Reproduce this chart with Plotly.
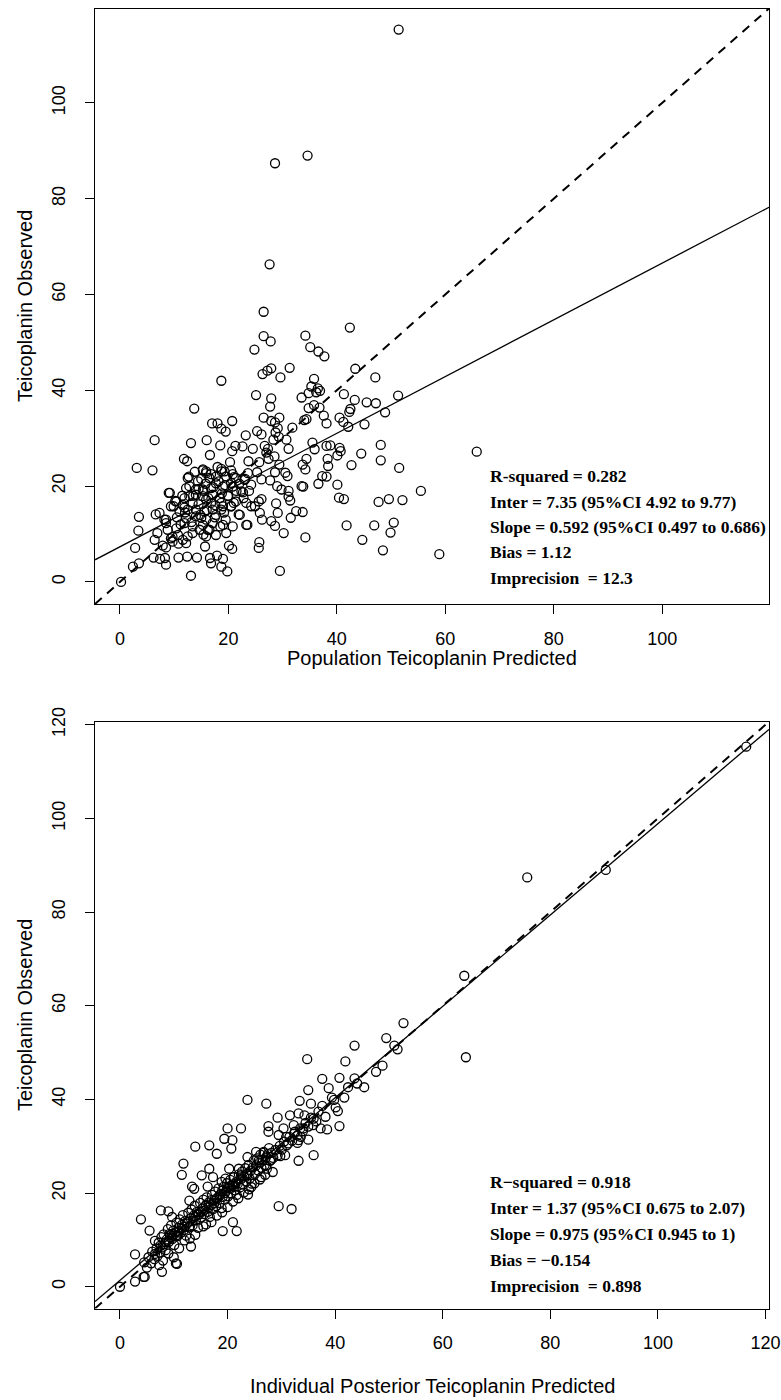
import plotly.graph_objects as go

# ---------------- data: top panel (population predicted vs observed) ----------------
top_pred = [51.4, 34.6, 28.6, 27.6, 26.5, 42.4, 26.5, 34.2, 27.8,
    24.8, 35.1, 36.6, 37.7, 18.7, 26.3, 27.9, 27.2, 29.6, 31.3, 43.4, 47.1, 35.8, 35.3, 36.5, 36.2,
    36.9, 25.1, 27.9, 33.5, 34.8, 41.3, 43.3, 45.5, 47.2, 51.3, 13.7, 27.7, 34.8, 35.8, 36.8, 42.5,
    42.3, 48.9, 26.5, 29.4, 27.9, 28.6, 34.4, 37.6, 40.5, 41.2, 45.1, 42.1, 31.8, 29.1, 34.0, 38.1,
    17.0, 18.0, 20.7, 18.7, 19.5, 25.3, 26.1, 23.2, 28.7, 29.3, 28.3, 30.7, 6.4, 16.0, 35.5, 13.1,
    18.5, 21.3, 22.6, 26.7, 38.1, 38.8, 48.1, 24.5, 27.3, 31.1, 35.9, 40.5, 40.7, 65.8, 20.7, 27.0,
    16.6, 28.5, 44.5, 40.1, 38.3, 34.4, 11.8, 12.4, 20.3, 23.7, 25.7, 27.4, 48.1, 42.7, 38.4, 33.7,
    3.1, 6.0, 15.3, 15.9, 18.7, 29.4, 28.6, 25.3, 51.5, 34.2, 30.5, 30.9, 37.3, 38.1, 12.7, 21.0,
    23.1, 26.1, 27.7, 36.6, 33.5, 33.8, 29.0, 29.8, 24.2, 20.5, 40.1, 14.5, 15.4, 31.1, 9.2, 55.5,
    22.7, 31.1, 31.4, 40.4, 41.3, 47.7, 49.6, 52.1, 10.2, 26.1, 25.6, 28.8, 24.2, 24.9, 20.5, 18.7,
    9.9, 11.9, 32.5, 33.7, 29.1, 19.2, 21.9, 6.6, 7.3, 3.5, 31.5, 26.2, 25.8, 15.0, 8.5, 27.9,
    50.5, 41.8, 46.9, 28.6, 23.5, 18.5, 16.2, 3.4, 6.9, 30.2, 49.9, 15.4, 9.7, 34.2, 44.7, 6.4,
    10.8, 20.1, 20.7, 7.9, 15.7, 8.5, 25.7, 25.6, 2.8, 48.5, 58.9, 6.2, 7.4, 8.3, 10.8, 12.4,
    14.2, 16.6, 17.9, 19.0, 2.4, 3.5, 16.8, 18.7, 8.5, 29.5, 19.8, 13.1, 0.2,
    15.3, 15.9, 18.7, 19.3, 20.5, 23.6, 12.5, 14.4, 16.5, 17.7, 19.6, 21.4, 23.0, 17.7, 19.0, 20.8,
    22.4, 12.2, 14.0, 15.3, 16.8, 9.0, 10.4, 11.9, 12.8, 14.0, 15.3, 15.9, 17.1, 18.4, 19.9, 21.4,
    23.3, 9.4, 11.6, 13.4, 16.8, 19.0, 11.0, 12.5, 14.0, 15.6, 17.1, 18.7, 20.5, 22.1, 12.2, 14.0,
    15.9, 17.7, 8.2, 8.5, 10.4, 11.9, 13.4, 15.3, 17.1, 19.0, 20.8, 23.3, 8.8, 10.7, 12.5, 14.7,
    16.5, 9.4, 11.6, 13.4, 15.9, 17.7, 19.6, 9.7, 12.2,
    13.5, 14.5, 15.8, 16.3, 17.2, 17.6, 18.2, 18.8, 19.4, 20.0, 20.8, 21.5, 22.0, 16.0, 14.8, 13.2,
    12.0, 11.2, 10.5, 17.5, 19.5, 21.0, 22.8, 23.8, 15.0, 16.8, 18.0, 13.8, 12.8, 11.5]
top_obs = [115.3, 89.0, 87.4, 66.3, 56.4, 53.1, 51.3, 51.4, 50.2,
    48.5, 49.0, 48.1, 47.1, 42.0, 43.4, 44.6, 44.1, 42.7, 44.7, 44.5, 42.7, 42.4, 40.8, 40.4, 39.6,
    39.9, 39.0, 38.3, 38.5, 39.4, 39.2, 38.0, 37.5, 37.3, 38.9, 36.2, 36.6, 36.3, 36.9, 36.4, 36.1,
    35.5, 35.4, 34.3, 34.3, 33.6, 33.3, 34.0, 34.7, 34.3, 33.4, 32.9, 32.4, 32.2, 32.1, 33.8, 33.1,
    33.1, 33.1, 33.6, 32.0, 31.4, 31.5, 30.8, 30.6, 31.2, 30.3, 29.7, 29.7, 29.6, 29.6, 29.1, 29.0,
    28.5, 28.4, 28.3, 28.4, 28.4, 28.5, 28.6, 27.8, 27.8, 27.8, 27.7, 28.0, 27.3, 27.2, 27.3, 27.0,
    26.5, 26.2, 26.8, 26.4, 25.7, 25.7, 25.7, 25.2, 25.0, 25.2, 25.0, 25.7, 25.4, 24.4, 24.2, 24.5,
    23.8, 23.3, 23.5, 23.1, 23.1, 24.5, 22.9, 22.9, 23.8, 23.5, 22.8, 22.1, 22.1, 22.0, 22.0, 21.9,
    21.5, 21.4, 21.2, 20.5, 20.0, 19.9, 20.0, 19.3, 20.3, 20.7, 20.3, 19.4, 19.0, 19.0, 18.6, 19.0,
    18.7, 17.8, 17.0, 17.6, 17.3, 16.7, 17.3, 17.1, 16.9, 17.3, 16.8, 16.4, 15.8, 15.8, 15.8, 16.5,
    15.8, 15.5, 14.8, 14.6, 14.4, 14.5, 14.1, 14.1, 14.4, 13.6, 13.4, 13.0, 14.4, 13.4, 13.0, 12.7,
    12.4, 11.8, 11.8, 11.7, 11.9, 11.6, 10.9, 10.7, 10.2, 10.2, 10.3, 9.9, 9.4, 9.3, 8.8, 8.8,
    8.0, 7.6, 6.9, 7.6, 7.4, 7.2, 8.3, 7.1, 7.1, 6.6, 5.8, 5.1, 4.8, 5.0, 5.1, 5.3,
    5.1, 5.0, 5.5, 4.8, 3.2, 3.9, 3.9, 3.2, 3.6, 2.3, 2.2, 1.3, 0.0,
    23.3, 22.7, 23.6, 23.1, 23.3, 22.7, 21.7, 21.0, 21.7, 22.0, 22.0, 21.7, 21.3, 20.6, 19.9, 19.9,
    18.9, 19.6, 19.3, 19.3, 19.6, 18.6, 16.8, 17.5, 17.9, 18.2, 17.9, 17.2, 18.2, 17.5, 17.9, 16.8,
    16.5, 15.8, 16.1, 16.5, 16.5, 15.8, 14.7, 15.1, 15.1, 14.7, 15.1, 15.1, 15.8, 14.0, 13.3, 13.7,
    13.0, 14.0, 13.0, 12.3, 11.2, 12.3, 11.6, 11.9, 12.3, 11.9, 11.6, 11.9, 10.9, 9.8, 9.5, 10.9,
    10.9, 9.1, 8.8, 10.2, 9.5, 9.8, 10.2, 8.4, 8.1,
    18.0, 16.2, 20.5, 17.5, 19.8, 16.0, 21.0, 18.5, 20.2, 18.0, 22.5, 19.0, 20.5, 15.0, 14.0, 12.5,
    14.5, 12.0, 13.5, 13.5, 13.0, 16.5, 17.5, 19.0, 21.5, 22.5, 24.0, 23.0, 20.0, 18.0]

# ---------------- data: bottom panel (individual posterior predicted vs observed) ----------------
bot_pred = [116.4, 90.3, 75.7, 64.0, 52.7, 49.5, 43.6, 51.0, 51.6,
    64.3, 34.8, 41.9, 48.8, 47.6, 37.6, 40.8, 43.6, 45.4, 42.4, 35.0, 38.8, 44.1, 23.7, 27.2, 33.4,
    35.5, 37.6, 39.8, 39.4, 41.7, 40.1, 40.5, 40.8, 29.3, 31.6, 33.2, 34.3, 36.0, 38.2, 36.9, 27.6,
    30.4, 32.3, 34.1, 35.9, 37.3, 38.5, 20.0, 22.5, 27.6, 29.5, 30.9, 32.4, 33.6, 35.0, 33.2, 19.4,
    20.9, 14.0, 16.6, 20.7, 31.3, 33.0, 18.0, 36.0, 29.8, 30.7, 25.3, 26.7, 23.7, 28.1, 33.2, 25.8,
    11.8, 27.2, 20.3, 16.6, 22.1, 28.4, 11.5, 15.2, 17.3, 19.6, 21.2, 23.7, 26.3, 13.4, 13.8, 16.3,
    18.9, 21.2, 24.4, 23.8, 29.5, 31.9, 21.0, 19.1, 21.7, 3.9, 5.5, 2.8, 0.0, 2.8, 4.4, 10.4,
    7.8, 7.6, 9.0, 9.7, 12.9, 9.2, 13.2, 10.6, 4.6,
    4.5, 5.0, 5.3, 5.8, 6.0, 6.4, 6.8, 7.0, 7.2, 7.5, 7.7, 7.9, 8.1, 8.3, 8.5, 8.7,
    8.9, 9.1, 9.3, 9.5, 9.7, 9.9, 10.1, 10.3, 10.5, 10.7, 10.9, 11.1, 11.3, 11.5, 11.7, 11.9,
    12.1, 12.3, 12.5, 12.7, 12.9, 13.1, 13.3, 13.5, 13.7, 13.9, 14.1, 14.3, 14.5, 14.7, 14.9, 15.1,
    15.3, 15.5, 15.7, 15.9, 16.1, 16.3, 16.5, 16.7, 16.9, 17.1, 17.3, 17.5, 17.7, 17.9, 18.1, 18.3,
    18.5, 18.7, 18.9, 19.1, 19.3, 19.5, 19.7, 19.9, 20.1, 20.3, 20.5, 20.7, 20.9, 21.1, 21.3, 21.5,
    21.7, 21.9, 22.1, 22.3, 22.5, 22.7, 22.9, 23.1, 23.3, 23.5, 23.7, 23.9, 24.1, 24.3, 24.5, 24.7,
    24.9, 25.1, 25.3, 25.5, 25.7, 25.9, 26.1, 26.3, 26.5, 26.7, 26.9, 27.1, 27.3, 27.5, 27.7, 27.9,
    28.1, 28.5, 28.9, 29.3, 29.7, 30.1, 30.5, 31.0, 31.5, 32.0, 32.5, 33.0, 33.5, 34.0, 34.5, 35.0,
    35.5, 36.5,
    6.5, 7.3, 8.0, 9.0, 10.0, 11.0, 12.0, 13.0, 14.0, 15.5, 16.0, 17.0, 18.0, 19.0, 20.0, 21.0,
    22.0, 23.0, 24.0, 25.0, 26.0, 27.0,
    9.5, 10.5, 11.5, 12.5, 13.5, 14.5, 15.5, 16.5, 17.5, 18.5, 19.5, 20.5, 21.5, 22.5, 23.5, 15.0,
    16.0, 17.0, 18.0, 19.0, 20.0, 21.0, 14.0, 13.0, 12.0, 11.0, 10.0, 8.5, 7.5, 6.5]
bot_obs = [115.3, 89.0, 87.4, 66.4, 56.3, 53.1, 51.5, 51.5, 50.7,
    49.0, 48.6, 48.1, 47.2, 45.9, 44.4, 44.6, 44.5, 42.6, 42.6, 42.0, 42.4, 43.4, 39.9, 39.1, 39.7,
    39.1, 38.6, 39.9, 40.4, 40.4, 38.3, 37.5, 34.3, 36.1, 36.6, 37.0, 36.6, 35.9, 36.3, 37.4, 34.3,
    33.8, 34.5, 33.8, 34.5, 33.8, 33.6, 33.8, 33.8, 33.1, 32.4, 32.0, 32.7, 32.0, 31.4, 31.3, 31.6,
    31.3, 29.9, 30.2, 29.5, 30.6, 30.7, 28.4, 28.1, 27.9, 28.1, 28.8, 28.6, 27.7, 27.1, 26.9, 27.0,
    26.3, 25.9, 25.2, 25.2, 25.2, 24.5, 23.9, 23.8, 23.4, 23.1, 23.4, 23.8, 23.4, 21.4, 20.9, 21.4,
    22.4, 21.3, 21.3, 19.7, 17.2, 16.6, 13.8, 11.9, 11.9, 14.4, 12.0, 6.9, 0.0, 1.1, 2.1, 5.0,
    3.2, 16.3, 16.1, 14.9, 18.4, 11.3, 8.6, 4.9, 2.1,
    5.2, 4.1, 6.3, 5.0, 7.5, 5.9, 8.2, 6.6, 9.4, 7.3, 10.6, 8.4, 11.2, 9.1, 7.8, 10.1,
    12.3, 9.6, 11.0, 13.1, 10.2, 12.0, 8.9, 11.6, 13.7, 10.8, 12.6, 14.4, 11.5, 13.2, 15.3, 12.1,
    14.0, 10.9, 13.5, 15.8, 12.7, 14.6, 16.5, 13.1, 15.2, 17.3, 14.2, 16.0, 12.6, 15.4, 17.9, 14.8,
    16.7, 18.6, 15.5, 17.2, 19.1, 16.0, 18.0, 14.9, 17.4, 19.6, 16.6, 18.4, 20.3, 17.2, 19.0, 21.0,
    17.9, 19.8, 16.8, 19.2, 21.4, 18.6, 20.4, 22.1, 19.3, 21.0, 22.8, 19.9, 21.6, 23.4, 20.6, 22.3,
    19.6, 22.0, 24.0, 21.2, 23.0, 24.6, 21.8, 23.5, 25.3, 22.5, 24.2, 26.0, 23.1, 24.8, 22.0, 25.5,
    27.0, 24.1, 25.9, 27.4, 24.8, 26.5, 28.2, 25.4, 27.1, 28.8, 26.0, 27.6, 25.2, 28.3, 29.6, 26.9,
    28.6, 27.5, 29.2, 28.0, 30.1, 29.3, 31.0, 30.2, 32.0, 31.2, 33.1, 32.3, 33.8, 33.2, 35.0, 34.2,
    36.1, 35.3,
    9.8, 4.6, 5.6, 7.1, 6.3, 8.2, 9.9, 10.3, 11.1, 12.9, 13.3, 13.8, 15.2, 15.9, 17.0, 18.2,
    18.9, 20.1, 20.8, 22.1, 22.9, 23.9,
    10.5, 11.0, 12.5, 13.8, 14.0, 15.5, 16.2, 17.0, 17.8, 19.5, 20.0, 21.5, 22.0, 23.8, 24.0, 16.0,
    17.5, 18.5, 18.8, 20.5, 21.2, 21.8, 15.0, 13.0, 12.8, 11.8, 11.2, 9.5, 8.8, 7.0]

# regression fits reported on the chart
top_inter, top_slope = 7.35, 0.592
bot_inter, bot_slope = 1.37, 0.975

x_ticks_top = [0, 20, 40, 60, 80, 100]
x_ticks_bot = [0, 20, 40, 60, 80, 100, 120]
y_ticks_top = [0, 20, 40, 60, 80, 100]
y_ticks_bot = [0, 20, 40, 60, 80, 100, 120]

top_stats = ["R-squared = 0.282",
             "Inter = 7.35 (95%CI 4.92 to 9.77)",
             "Slope = 0.592 (95%CI 0.497 to 0.686)",
             "Bias = 1.12",
             "Imprecision  = 12.3"]
bot_stats = ["R\u2212squared = 0.918",
             "Inter = 1.37 (95%CI 0.675 to 2.07)",
             "Slope = 0.975 (95%CI 0.945 to 1)",
             "Bias = \u22120.154",
             "Imprecision  = 0.898"]

top_range = [-4.6, 119.7]
bot_range = [-4.64, 120.64]

W, H = 781, 1400
fig = go.Figure()

marker = dict(symbol="circle-open", size=9, color="black", line=dict(width=1.3, color="black"))

# top panel
fig.add_trace(go.Scatter(x=top_pred, y=top_obs, mode="markers", marker=marker,
                         xaxis="x", yaxis="y", showlegend=False, hoverinfo="x+y"))
fig.add_trace(go.Scatter(x=top_range, y=top_range, mode="lines",
                         line=dict(color="black", width=2, dash="9px,7px"),
                         xaxis="x", yaxis="y", showlegend=False))
fig.add_trace(go.Scatter(x=top_range, y=[top_inter + top_slope * v for v in top_range], mode="lines",
                         line=dict(color="black", width=1.3),
                         xaxis="x", yaxis="y", showlegend=False))
# bottom panel
fig.add_trace(go.Scatter(x=bot_pred, y=bot_obs, mode="markers", marker=marker,
                         xaxis="x2", yaxis="y2", showlegend=False, hoverinfo="x+y"))
fig.add_trace(go.Scatter(x=bot_range, y=bot_range, mode="lines",
                         line=dict(color="black", width=2, dash="9px,7px"),
                         xaxis="x2", yaxis="y2", showlegend=False))
fig.add_trace(go.Scatter(x=bot_range, y=[bot_inter + bot_slope * v for v in bot_range], mode="lines",
                         line=dict(color="black", width=1.3),
                         xaxis="x2", yaxis="y2", showlegend=False))

xdom = [95 / W, 769 / W]
top_dom = [1 - 604 / H, 1 - 8.5 / H]
bot_dom = [1 - 1308.5 / H, 1 - 721.7 / H]

tickfont = dict(family="Liberation Sans, Arial, Helvetica, sans-serif", size=18, color="black")
common = dict(showgrid=False, zeroline=False, showline=True, mirror=True, linecolor="black",
              linewidth=1.3, ticks="outside", ticklen=9, tickwidth=1.1, tickcolor="black",
              tickfont=tickfont, automargin=False, fixedrange=True)

fig.update_layout(
    width=W, height=H,
    margin=dict(l=0, r=0, t=0, b=0),
    paper_bgcolor="white", plot_bgcolor="white",
    xaxis=dict(domain=xdom, range=top_range, tickvals=x_ticks_top, anchor="y",
               ticklabelstandoff=9, **common),
    yaxis=dict(domain=top_dom, range=top_range, tickvals=y_ticks_top, anchor="x",
               tickangle=-90, ticklabelstandoff=13, **common),
    xaxis2=dict(domain=xdom, range=bot_range, tickvals=x_ticks_bot, anchor="y2",
                ticklabelstandoff=9, **common),
    yaxis2=dict(domain=bot_dom, range=bot_range, tickvals=y_ticks_bot, anchor="x2",
                tickangle=-90, ticklabelstandoff=13, **common),
)

title_font = dict(family="Liberation Sans, Arial, Helvetica, sans-serif", size=20, color="black")
ann = []
xc = (xdom[0] + xdom[1]) / 2
ann.append(dict(text="Population Teicoplanin Predicted", x=xc, y=1 - 658 / H, xref="paper", yref="paper",
                showarrow=False, font=title_font, xanchor="center", yanchor="middle"))
ann.append(dict(text="Individual Posterior Teicoplanin Predicted", x=xc, y=1 - 1386 / H, xref="paper",
                yref="paper", showarrow=False, font=title_font, xanchor="center", yanchor="middle"))
ann.append(dict(text="Teicoplanin Observed", x=25 / W, y=1 - 306 / H, xref="paper", yref="paper",
                showarrow=False, font=title_font, textangle=-90, xanchor="center", yanchor="middle"))
ann.append(dict(text="Teicoplanin Observed", x=25 / W, y=1 - 1015 / H, xref="paper", yref="paper",
                showarrow=False, font=title_font, textangle=-90, xanchor="center", yanchor="middle"))

stat_font = dict(family="Liberation Serif, Times New Roman, serif", size=17.5, color="black")
top_y = [476, 501.5, 527, 552.5, 578]
bot_y = [1182, 1208, 1234, 1260, 1286]
for txt, yy in zip(top_stats, top_y):
    ann.append(dict(text="<b>%s</b>" % txt, x=488 / W, y=1 - yy / H, xref="paper", yref="paper",
                    showarrow=False, font=stat_font, xanchor="left", yanchor="middle"))
for txt, yy in zip(bot_stats, bot_y):
    ann.append(dict(text="<b>%s</b>" % txt, x=488 / W, y=1 - yy / H, xref="paper", yref="paper",
                    showarrow=False, font=stat_font, xanchor="left", yanchor="middle"))
fig.update_layout(annotations=ann)

fig.write_html("out.html", config={"displayModeBar": False},
               post_script="document.body.style.margin='0px';document.body.style.overflow='hidden';")
